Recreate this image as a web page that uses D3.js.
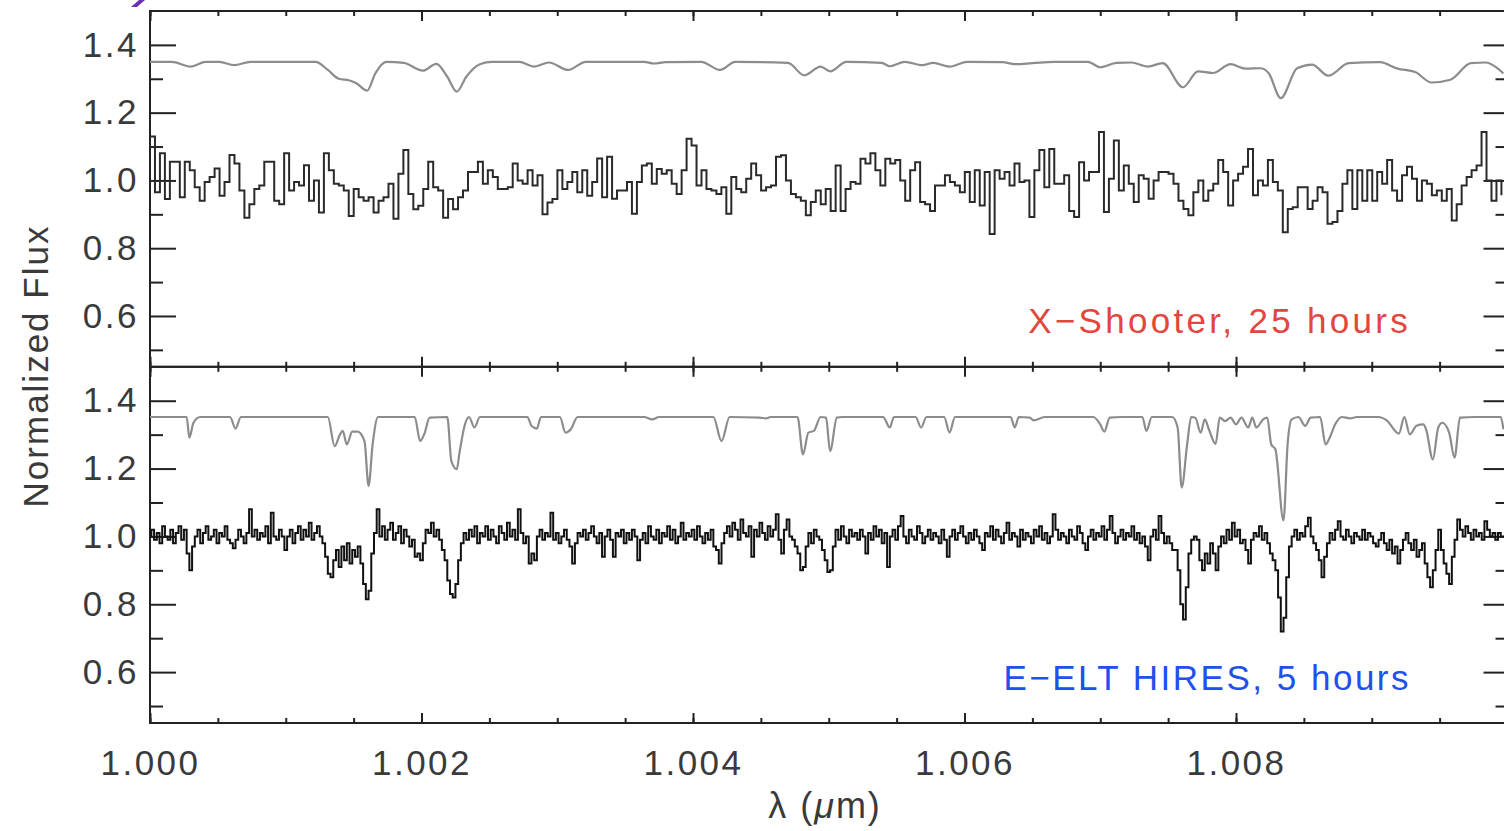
<!DOCTYPE html>
<html>
<head>
<meta charset="utf-8">
<script src="https://cdn.jsdelivr.net/npm/d3@7"></script>
<style>
    body { margin: 0; background: #fff; }
    svg text { font-family: "Liberation Sans", Arial, sans-serif; }
</style>
</head>
<body>
<div id="chart"></div>
<script>

// X-Shooter binned spectrum, one flux value per bin, bins start at 1.000 um
var xshooter_start = 1.000;
var xshooter_step = 0.0000366;
var xshooter_flux = [
    1.13, 0.965, 1.08, 0.945, 1.055, 1.055, 0.95, 1.055, 1.03, 0.98,
    0.94, 0.995, 1.01, 1.035, 0.955, 0.995, 1.075, 1.05, 0.97, 0.89,
    0.93, 0.975, 0.985, 1.055, 1.055, 0.94, 0.93, 1.08, 0.97, 0.995,
    0.985, 1.045, 0.94, 1.0, 0.905, 1.08, 1.03, 0.99, 0.985, 0.97,
    0.895, 0.975, 0.95, 0.94, 0.95, 0.905, 0.94, 0.95, 0.99, 0.887,
    1.02, 1.09, 0.96, 0.915, 0.925, 0.975, 1.055, 0.98, 0.97, 0.89,
    0.945, 0.915, 0.95, 0.97, 1.025, 1.025, 1.055, 0.99, 1.03, 1.01,
    0.975, 0.975, 0.98, 1.05, 1.0, 0.99, 1.03, 0.985, 1.015, 0.9,
    0.935, 0.945, 1.03, 0.975, 0.995, 1.025, 0.965, 1.03, 0.955, 0.995,
    1.065, 0.95,
    1.07, 0.946, 0.97, 0.97, 0.995, 0.902, 0.995, 1.044, 1.05, 0.99,
    1.034, 1.02, 1.03, 0.99, 0.96, 1.03, 1.123, 1.103, 0.985, 1.03,
    0.975, 0.97, 0.96, 0.98, 0.902, 1.01, 0.975, 0.965, 1.005, 1.05,
    1.015, 0.97, 0.98, 0.985, 1.07, 1.074, 1.0, 0.96, 0.95, 0.94,
    0.897, 0.936, 0.97, 0.93, 0.975, 0.91, 1.044, 0.91, 0.975, 0.995,
    0.99, 1.064, 1.05, 1.08, 1.03, 0.985, 1.064, 1.05, 1.06, 1.0,
    0.94, 1.03, 1.054, 0.936, 0.93, 0.91, 0.985, 0.985, 1.015, 0.995,
    0.985, 0.965, 1.025, 0.936, 1.03, 0.926, 1.025, 0.842, 1.03, 1.005,
    1.025, 0.985, 1.05, 0.995, 1.0, 0.892, 1.03, 1.09, 0.98,
    1.093, 0.99, 0.99, 1.015, 0.91, 0.892, 1.054, 1.0, 1.025, 1.025,
    1.143, 0.907, 1.005, 1.118, 0.97, 1.044, 0.99, 0.936, 1.015, 1.005,
    0.946, 1.0, 1.025, 1.025, 1.02, 0.99, 0.94, 0.916, 0.897, 0.965,
    1.0, 0.94, 0.97, 0.99, 1.06, 1.025, 0.926, 1.0, 1.02, 1.04,
    1.093, 0.956, 1.0, 0.985, 1.06, 0.995, 0.97, 0.847, 0.916, 0.921,
    0.98, 0.98, 0.916, 0.94, 0.98, 0.965, 0.872, 0.877, 0.91, 0.99,
    1.03, 0.916, 1.03, 0.94, 1.03, 0.94, 1.025, 0.99, 1.06, 0.97,
    0.94, 1.015, 1.04, 1.005, 0.94, 1.0, 0.99, 0.956, 0.97, 0.94,
    0.975, 0.882, 0.93, 0.985, 1.01, 1.03, 1.044, 1.143, 1.0, 0.94,
    1.0, 0.956
];

// E-ELT HIRES spectrum, one flux value per sample
var hires_start = 1.000;
var hires_step = 0.00002;
var hires_flux = [
    1.00, 1.02, 0.99, 1.01, 0.98, 1.03, 1.00, 0.99, 1.02, 0.98, 1.01, 1.03, 0.99, 1.02, 0.95, 0.90, 0.97, 1.00, 1.02, 0.98, 1.01, 1.03, 0.99, 1.00, 1.02,
    0.98, 1.01, 1.00, 1.03, 0.99, 0.98, 0.965, 0.99, 1.02, 1.00, 0.98, 1.01, 1.08, 1.00, 1.02, 0.99, 1.01, 1.00, 1.03, 0.98, 1.07, 1.00, 0.99, 1.02, 1.00,
    0.96, 1.00, 1.02, 0.98, 1.01, 1.03, 0.99, 1.02, 1.00, 1.04, 0.99, 1.01, 1.03, 1.00, 0.98, 0.94, 0.89, 0.88, 0.93, 0.96, 0.91, 0.97, 0.93, 0.98, 0.92,
    0.96, 0.94, 0.97, 0.92, 0.86, 0.815, 0.84, 0.95, 1.01, 1.08, 1.00, 1.03, 0.99, 1.02, 1.04, 0.99, 1.01, 1.03, 0.98, 1.02, 1.00, 0.97, 0.99, 0.94, 0.95,
    0.93, 0.98, 1.02, 1.01, 1.04, 1.00, 1.02, 0.99, 0.96, 0.93, 0.87, 0.83, 0.82, 0.86, 0.93, 0.98, 1.01, 0.99, 1.02, 1.00, 1.03, 0.98, 1.01, 1.00, 1.03,
    0.99, 1.02, 1.00, 0.98, 1.03, 1.01, 0.99, 1.04, 1.00, 1.02, 0.99, 1.08, 1.01, 0.98, 1.00, 0.92, 0.95, 0.93, 1.00, 1.02, 0.99, 1.01, 1.00, 1.07, 0.99,
    1.01, 0.98, 1.00, 1.02, 0.99, 0.97, 0.92, 0.98, 1.01, 1.00, 1.02, 0.99, 1.01, 1.03, 1.00, 0.98, 1.01, 0.94, 1.00, 1.02, 0.99, 0.94, 1.01, 1.00, 1.02,
    0.98, 1.01, 0.99, 1.02, 1.00, 0.93, 0.99, 1.01, 0.98, 1.03, 1.00, 0.99, 1.02, 0.98, 1.01, 1.00, 1.03, 0.99, 1.02, 0.98, 1.00, 1.04, 0.99, 1.01, 1.00,
    1.02, 0.99, 1.03, 1.00, 0.98, 1.01, 0.99, 1.02, 0.97, 0.96, 0.92, 0.98, 1.01, 1.03, 1.00, 1.04, 1.02, 0.99, 1.05, 1.01, 1.00, 1.03, 0.94, 1.02, 1.00,
    1.04, 1.01, 0.99, 1.03, 1.00, 1.02, 1.065, 0.99, 0.95, 1.02, 1.05, 1.00, 0.99, 0.97, 0.95, 0.90, 0.91, 0.97, 1.01, 0.98, 1.02, 1.00, 0.99, 0.96, 0.93,
    0.895, 0.90, 0.97, 1.02, 0.99, 1.03, 1.00, 0.98, 1.02, 1.00, 1.01, 0.99, 1.02, 1.00, 0.95, 1.01, 0.99, 1.03, 1.00, 1.02, 0.98, 1.01, 0.91, 1.00, 1.02,
    0.99, 1.03, 1.06, 1.00, 0.98, 1.02, 1.00, 0.99, 1.03, 1.01, 0.98, 1.00, 1.02, 0.99, 1.01, 1.00, 0.98, 1.02, 0.99, 0.94, 1.00, 1.02, 0.99, 1.01, 1.03,
    1.00, 0.98, 1.01, 0.99, 1.02, 1.00, 0.98, 0.96, 1.01, 1.00, 1.03, 0.99, 1.02, 1.00, 0.98, 1.01, 1.04, 0.99, 1.01, 1.00, 0.97, 1.02, 0.99, 1.01, 1.00,
    0.98, 1.02, 1.00, 1.03, 0.99, 1.01, 0.98, 1.00, 1.065, 1.02, 0.99, 1.01, 1.00, 0.98, 1.02, 1.00, 0.99, 1.03, 1.01, 0.98, 0.96, 1.00, 1.02, 0.99, 1.01,
    1.00, 1.03, 0.99, 1.02, 1.06, 1.01, 0.98, 1.00, 1.02, 0.99, 1.01, 1.00, 1.03, 0.99, 1.01, 0.98, 1.00, 0.97, 0.93, 1.00, 1.02, 0.99, 1.06, 1.01, 0.98,
    1.00, 0.98, 0.96, 0.96, 0.90, 0.80, 0.755, 0.85, 0.95, 0.99, 1.00, 0.99, 0.93, 0.90, 0.95, 0.92, 0.98, 0.95, 0.90, 0.97, 1.00, 0.98, 1.02, 0.99, 1.04,
    1.00, 1.02, 0.98, 0.99, 0.96, 0.92, 0.99, 1.01, 1.00, 1.03, 0.99, 1.01, 0.98, 0.95, 0.93, 0.90, 0.82, 0.72, 0.76, 0.88, 0.97, 1.00, 1.02, 0.99, 1.01,
    1.00, 1.03, 1.055, 1.00, 0.98, 0.96, 0.93, 0.88, 0.94, 0.98, 1.01, 0.99, 1.02, 1.045, 1.00, 0.99, 1.02, 1.00, 0.98, 1.01, 1.00, 0.99, 1.02, 0.99, 1.01,
    1.00, 0.98, 0.97, 0.99, 1.01, 0.98, 0.96, 0.99, 0.95, 0.97, 0.92, 0.96, 0.99, 1.01, 0.98, 0.96, 0.99, 0.94, 0.96, 0.98, 0.92, 0.88, 0.85, 0.90, 0.96,
    1.02, 0.96, 0.92, 0.89, 0.86, 0.94, 0.99, 1.05, 1.02, 1.00, 1.03, 1.01, 0.99, 1.02, 1.00, 1.01, 0.99, 1.045, 1.02, 1.00, 1.01, 0.99, 1.01, 1.00, 1.00
];

// Model (offset) at X-Shooter resolution: [wavelength, flux]
var model_low = [
    [1.00000, 1.350], [1.00016, 1.350], [1.00030, 1.336], [1.00041, 1.350], [1.00051, 1.350],
    [1.00062, 1.340], [1.00074, 1.350], [1.00122, 1.350], [1.00131, 1.326], [1.00139, 1.300],
    [1.00147, 1.295], [1.00152, 1.287], [1.00160, 1.265], [1.00166, 1.316], [1.00174, 1.350],
    [1.00187, 1.347], [1.00201, 1.324], [1.00211, 1.344], [1.00219, 1.306], [1.00226, 1.262],
    [1.00233, 1.306], [1.00243, 1.343], [1.00252, 1.350], [1.00272, 1.350], [1.00283, 1.336],
    [1.00294, 1.348], [1.00308, 1.326], [1.00321, 1.350], [1.00364, 1.350], [1.00371, 1.345],
    [1.00380, 1.349], [1.00406, 1.350], [1.00420, 1.326], [1.00431, 1.350], [1.00470, 1.347],
    [1.00482, 1.310], [1.00494, 1.336], [1.00501, 1.322], [1.00513, 1.350], [1.00539, 1.347],
    [1.00545, 1.337], [1.00556, 1.350], [1.00569, 1.340], [1.00577, 1.347], [1.00589, 1.336],
    [1.00602, 1.350], [1.00628, 1.349], [1.00637, 1.343], [1.00650, 1.346], [1.00666, 1.350],
    [1.00691, 1.350], [1.00700, 1.334], [1.00712, 1.347], [1.00723, 1.348], [1.00735, 1.336],
    [1.00746, 1.346], [1.00761, 1.275], [1.00772, 1.322], [1.00783, 1.317], [1.00796, 1.343],
    [1.00807, 1.330], [1.00818, 1.331], [1.00824, 1.317], [1.00833, 1.243], [1.00845, 1.331],
    [1.00856, 1.342], [1.00868, 1.309], [1.00883, 1.346], [1.00906, 1.349], [1.00919, 1.330],
    [1.00932, 1.320], [1.00944, 1.289], [1.00958, 1.297], [1.00973, 1.346], [1.00984, 1.348],
    [1.00992, 1.333], [1.00997, 1.316]
];

// Model (offset) at HIRES resolution: [wavelength, flux]
var model_high = [
    [1.00000, 1.352], [1.00027, 1.352], [1.00029, 1.291], [1.00032, 1.335], [1.00037, 1.352],
    [1.00059, 1.352], [1.00063, 1.318], [1.00067, 1.352], [1.00131, 1.352], [1.00136, 1.266],
    [1.00140, 1.301], [1.00142, 1.311], [1.00145, 1.271], [1.00149, 1.309], [1.00153, 1.309],
    [1.00158, 1.281], [1.00161, 1.149], [1.00164, 1.271], [1.00168, 1.352], [1.00195, 1.352],
    [1.00199, 1.281], [1.00202, 1.301], [1.00206, 1.350], [1.00219, 1.352], [1.00222, 1.222],
    [1.00226, 1.198], [1.00228, 1.247], [1.00232, 1.330], [1.00235, 1.352], [1.00239, 1.321],
    [1.00243, 1.352], [1.00278, 1.352], [1.00281, 1.326], [1.00285, 1.318], [1.00288, 1.352],
    [1.00302, 1.352], [1.00306, 1.306], [1.00310, 1.316], [1.00315, 1.352], [1.00364, 1.352],
    [1.00370, 1.345], [1.00375, 1.352], [1.00415, 1.352], [1.00421, 1.281], [1.00427, 1.352],
    [1.00449, 1.350], [1.00454, 1.348], [1.00457, 1.352], [1.00477, 1.352], [1.00481, 1.242],
    [1.00485, 1.306], [1.00489, 1.311], [1.00494, 1.352], [1.00498, 1.350], [1.00501, 1.252],
    [1.00506, 1.350], [1.00510, 1.352], [1.00540, 1.352], [1.00545, 1.321], [1.00548, 1.352],
    [1.00564, 1.352], [1.00568, 1.321], [1.00572, 1.352], [1.00585, 1.352], [1.00589, 1.306],
    [1.00593, 1.352], [1.00634, 1.352], [1.00637, 1.321], [1.00640, 1.352], [1.00648, 1.350],
    [1.00651, 1.342], [1.00659, 1.352], [1.00695, 1.352], [1.00700, 1.330], [1.00703, 1.309],
    [1.00707, 1.350], [1.00716, 1.352], [1.00731, 1.352], [1.00734, 1.311], [1.00738, 1.352],
    [1.00753, 1.352], [1.00757, 1.321], [1.00760, 1.144], [1.00764, 1.271], [1.00767, 1.352],
    [1.00770, 1.350], [1.00774, 1.306], [1.00777, 1.345], [1.00780, 1.316], [1.00785, 1.273],
    [1.00788, 1.350], [1.00792, 1.340], [1.00796, 1.350], [1.00800, 1.330], [1.00804, 1.350],
    [1.00809, 1.321], [1.00812, 1.350], [1.00815, 1.321], [1.00820, 1.345], [1.00823, 1.350],
    [1.00826, 1.271], [1.00829, 1.257], [1.00835, 1.047], [1.00838, 1.271], [1.00841, 1.345],
    [1.00846, 1.352], [1.00851, 1.326], [1.00855, 1.350], [1.00862, 1.352], [1.00866, 1.271],
    [1.00869, 1.291], [1.00873, 1.330], [1.00878, 1.352], [1.00884, 1.348], [1.00889, 1.352],
    [1.00905, 1.352], [1.00911, 1.342], [1.00920, 1.303], [1.00924, 1.352], [1.00928, 1.301],
    [1.00933, 1.326], [1.00938, 1.330], [1.00940, 1.316], [1.00945, 1.227], [1.00949, 1.321],
    [1.00952, 1.335], [1.00957, 1.306], [1.00961, 1.232], [1.00965, 1.350], [1.00976, 1.352],
    [1.00984, 1.352], [1.00995, 1.352], [1.00997, 1.316]
];

// Axis ticks and labels (1.010 sits on the cropped right edge, so it gets a tick but no label)
var x_major_ticks = [1.000, 1.002, 1.004, 1.006, 1.008, 1.010];
var x_tick_labels = ["1.000", "1.002", "1.004", "1.006", "1.008", ""];
var y_label_ticks = [0.6, 0.8, 1.0, 1.2, 1.4];
var y_minor_ticks = [0.5, 0.7, 0.9, 1.1, 1.3];
var panel_labels = ["X\u2212Shooter, 25 hours", "E\u2212ELT HIRES, 5 hours"];

const width = 1504, height = 831;
const plot = {left: 150, right: 1507.5, top: 11, mid: 366.8, bottom: 723};

var svg = d3.select("#chart").append("svg")
    .attr("width", width)
    .attr("height", height);

var x_scale = d3.scaleLinear()
    .domain([1.000, 1.010])
    .range([plot.left, plot.right]);

var x_minor = d3.range(0, 21).map((i) => 1.000 + i * 0.0005);

function series(start, step, values){
    return values.map((v, i) => [start + i * step, v]);
}

// draws one framed panel with its ticks
function panel(y0, y1, show_x_labels){

    var y_scale = d3.scaleLinear()
        .domain([0.45, 1.5])
        .range([y1, y0]);

    var g = svg.append("g").attr("class", "panel");

    // left axis with labels
    g.append("g")
        .attr("class", "axis")
        .attr("transform", "translate(" + plot.left + ",0)")
        .call(d3.axisLeft(y_scale)
            .tickValues(y_label_ticks)
            .tickSizeInner(-26).tickSizeOuter(0)
            .tickPadding(11)
            .tickFormat(d3.format(".1f")));

    g.append("g")
        .attr("class", "axis")
        .attr("transform", "translate(" + plot.left + ",0)")
        .call(d3.axisLeft(y_scale)
            .tickValues(y_minor_ticks)
            .tickSizeInner(-13).tickSizeOuter(0)
            .tickFormat(""));

    // right axis, ticks only
    g.append("g")
        .attr("class", "axis")
        .attr("transform", "translate(" + plot.right + ",0)")
        .call(d3.axisRight(y_scale)
            .tickValues(y_label_ticks)
            .tickSizeInner(-24).tickSizeOuter(0)
            .tickFormat(""));

    g.append("g")
        .attr("class", "axis")
        .attr("transform", "translate(" + plot.right + ",0)")
        .call(d3.axisRight(y_scale)
            .tickValues(y_minor_ticks)
            .tickSizeInner(-12).tickSizeOuter(0)
            .tickFormat(""));

    // x ticks on top and bottom edges, pointing inward
    g.append("g")
        .attr("class", "axis")
        .attr("transform", "translate(0," + y0 + ")")
        .call(d3.axisTop(x_scale).tickValues(x_minor)
            .tickSizeInner(-5).tickSizeOuter(0).tickFormat(""));

    g.append("g")
        .attr("class", "axis")
        .attr("transform", "translate(0," + y0 + ")")
        .call(d3.axisTop(x_scale).tickValues(x_major_ticks)
            .tickSizeInner(-10).tickSizeOuter(0).tickFormat(""));

    g.append("g")
        .attr("class", "axis")
        .attr("transform", "translate(0," + y1 + ")")
        .call(d3.axisBottom(x_scale).tickValues(x_minor)
            .tickSizeInner(-5).tickSizeOuter(0).tickFormat(""));

    g.append("g")
        .attr("class", "axis xlab")
        .attr("transform", "translate(0," + y1 + ")")
        .call(d3.axisBottom(x_scale).tickValues(x_major_ticks)
            .tickSizeInner(-10).tickSizeOuter(0)
            .tickPadding(27)
            .tickFormat((d, i) => show_x_labels ? x_tick_labels[i] : ""));

    // frame
    g.append("rect")
        .attr("x", plot.left)
        .attr("y", y0)
        .attr("width", plot.right - plot.left)
        .attr("height", y1 - y0)
        .attr("fill", "none")
        .attr("stroke", "#222")
        .attr("stroke-width", 2);

    return {g: g, y: y_scale};
}

var top_panel = panel(plot.top, plot.mid, false);
var bottom_panel = panel(plot.mid, plot.bottom, true);

svg.selectAll(".axis path.domain").remove();
svg.selectAll(".axis line")
    .attr("stroke", "#222")
    .attr("stroke-width", 2);
svg.selectAll(".axis text")
    .attr("fill", "#3a3a3a")
    .style("font-size", "35px")
    .style("letter-spacing", "2.5px");

// spectra
function draw_line(p, data, curve, colour, w){
    p.g.append("path")
        .datum(data)
        .attr("fill", "none")
        .attr("stroke", colour)
        .attr("stroke-width", w)
        .attr("stroke-linejoin", "miter")
        .attr("d", d3.line()
            .x((d) => x_scale(d[0]))
            .y((d) => p.y(d[1]))
            .curve(curve));
}

draw_line(top_panel, model_low, d3.curveMonotoneX, "#8c8c8c", 2.2);
draw_line(top_panel, series(xshooter_start, xshooter_step, xshooter_flux), d3.curveStepAfter, "#2a2a2a", 2);
draw_line(bottom_panel, model_high, d3.curveMonotoneX, "#8c8c8c", 2.2);
draw_line(bottom_panel, series(hires_start, hires_step, hires_flux), d3.curveStep, "#111", 2);

// panel labels
top_panel.g.append("text")
    .attr("x", 1411)
    .attr("y", 333)
    .attr("text-anchor", "end")
    .attr("fill", "#e2463e")
    .style("font-size", "35px")
    .style("letter-spacing", "3.3px")
    .text(panel_labels[0]);

bottom_panel.g.append("text")
    .attr("x", 1411)
    .attr("y", 690)
    .attr("text-anchor", "end")
    .attr("fill", "#2150ee")
    .style("font-size", "35px")
    .style("letter-spacing", "2.5px")
    .text(panel_labels[1]);

// axis titles
svg.append("text")
    .attr("transform", "translate(48,366) rotate(-90)")
    .attr("text-anchor", "middle")
    .attr("fill", "#3a3a3a")
    .style("font-size", "35px")
    .style("letter-spacing", "2px")
    .text("Normalized Flux");

var xt = svg.append("text")
    .attr("x", 825)
    .attr("y", 818)
    .attr("text-anchor", "middle")
    .attr("fill", "#3a3a3a")
    .style("font-size", "36px")
    .style("letter-spacing", "2px");
xt.append("tspan").text("\u03bb (");
xt.append("tspan").style("font-style", "italic").text("\u03bc");
xt.append("tspan").text("m)");

// small purple mark cut by the top edge
svg.append("polygon")
    .attr("points", "131,7 137,7 145,0 139,0")
    .attr("fill", "#6b2fb3");

</script>
</body>
</html>
